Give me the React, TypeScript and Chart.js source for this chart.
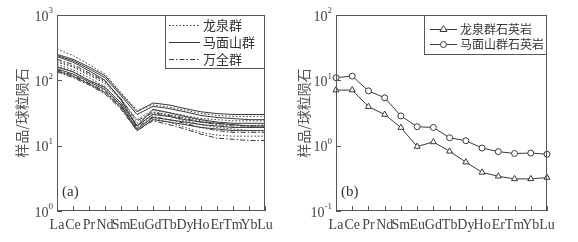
import React, { useEffect, useRef } from "react";
import { Chart, registerables } from "chart.js";
Chart.register(...registerables);

const elements = ["La", "Ce", "Pr", "Nd", "Sm", "Eu", "Gd", "Tb", "Dy", "Ho", "Er", "Tm", "Yb", "Lu"];

// Panel (a): chondrite-normalised REE of granitic rocks
const longquanA = [300, 240, 175, 125, 65, 35, 42, 39, 35, 31, 29, 28, 28, 28];
const longquanB = [190, 160, 120, 90, 50, 25, 35, 32, 29, 26, 25, 24, 24, 24];
const longquanC = [175, 145, 110, 80, 45, 20, 31, 28, 24, 21, 19, 18, 17, 17];
const longquanD = [165, 135, 100, 75, 40, 18, 26, 23, 19, 16, 14.5, 14, 14, 14];
const longquanE = [200, 165, 125, 95, 52, 22, 33, 30, 27, 24, 22, 21, 20, 21];

const mamianshanA = [250, 210, 160, 118, 62, 33, 45, 42, 37, 33, 31, 30, 30, 30];
const mamianshanB = [240, 200, 150, 110, 58, 30, 40, 37, 33, 29, 27, 26, 25, 25];
const mamianshanC = [230, 190, 140, 100, 50, 20, 36, 32, 28, 25, 23, 22, 22, 22];
const mamianshanD = [150, 125, 95, 72, 42, 18, 27, 25, 23, 21, 20, 19, 19, 19];
const mamianshanE = [140, 115, 88, 65, 38, 17, 25, 23, 21, 19, 18, 17, 17, 17];
const mamianshanF = [160, 135, 100, 78, 45, 20, 30, 28, 25, 23, 22, 21, 20, 20];

const wanquanA = [135, 110, 85, 62, 36, 17, 24, 21, 18, 15, 13, 12.5, 12, 12];
const wanquanB = [210, 175, 130, 98, 52, 24, 32, 29, 26, 23, 21, 20, 20, 20];
const wanquanC = [145, 120, 90, 68, 40, 19, 28, 25, 22, 19, 17, 16, 16, 16];

// Panel (b): quartzites
const longquanQuartzite = [7.1, 7.1, 3.95, 3.0, 1.89, 0.97, 1.14, 0.82, 0.56, 0.39, 0.34, 0.31, 0.31, 0.325];
const mamianshanQuartzite = [11, 11.6, 6.9, 5.4, 2.85, 1.95, 1.9, 1.32, 1.19, 0.92, 0.81, 0.76, 0.77, 0.74];

const decadesA = [0, 1, 2, 3];
const decadesB = [-1, 0, 1, 2];

const legendA = ["龙泉群", "马面山群", "万全群"];
const legendB = ["龙泉群石英岩", "马面山群石英岩"];
const yTitle = "样品/球粒陨石";

const DOT = [1.5, 2];
const DASHDOT = [5, 2, 1.5, 2];
const LINE = "#3a3a3a";
const AXIS = "#555";
const SERIF = "'Liberation Serif', 'Times New Roman', serif";
const CJK = "'Noto Sans CJK SC', sans-serif";

const supMap: Record<string, string> = { "-": "-", "0": "0", "1": "1", "2": "2", "3": "3" };

function makePlugin(o: any) {
  return {
    id: "decor",
    afterDraw(chart: any) {
      const { ctx, chartArea: a, scales } = chart;
      ctx.save();
      ctx.strokeStyle = AXIS;
      ctx.lineWidth = 1;
      ctx.setLineDash([]);
      ctx.strokeRect(a.left + 0.5, a.top + 0.5, a.right - a.left - 1, a.bottom - a.top - 1);
      // x ticks (inward)
      const xs = scales.x;
      elements.forEach((_, i) => {
        const px = Math.round(xs.getPixelForValue(i)) + 0.5;
        ctx.beginPath();
        ctx.moveTo(px, a.bottom);
        ctx.lineTo(px, a.bottom - 5);
        ctx.stroke();
      });
      // y ticks & labels
      const ys = scales.y;
      ctx.fillStyle = "#444";
      o.decades.forEach((e: number) => {
        const py = ys.getPixelForValue(Math.pow(10, e));
        ctx.beginPath();
        ctx.moveTo(a.left, Math.round(py) + 0.5);
        ctx.lineTo(a.left + 5, Math.round(py) + 0.5);
        ctx.stroke();
        const exp = String(e).split("").map((c) => supMap[c]).join("");
        ctx.font = `9px ${SERIF}`;
        const ew = ctx.measureText(exp).width;
        ctx.textAlign = "right";
        ctx.textBaseline = "middle";
        ctx.fillText(exp, a.left - 4, py - 4);
        ctx.font = `14px ${SERIF}`;
        ctx.fillText("10", a.left - 4 - ew, py + 2);
      });
      // y title
      ctx.save();
      ctx.translate(o.titleX, (a.top + a.bottom) / 2);
      ctx.rotate(-Math.PI / 2);
      ctx.font = `14px ${CJK}`;
      ctx.fillStyle = "#555";
      ctx.textAlign = "center";
      ctx.textBaseline = "middle";
      ctx.fillText(yTitle, 0, 0);
      ctx.restore();
      // panel label
      ctx.font = `15px ${SERIF}`;
      ctx.fillStyle = "#333";
      ctx.textAlign = "left";
      ctx.textBaseline = "middle";
      ctx.fillText(o.panel, a.left + 5, 192);
      // legend box
      const lb = o.legend;
      ctx.strokeStyle = AXIS;
      ctx.strokeRect(a.right - lb.w + 0.5, a.top + 0.5, lb.w - 1, lb.h);
      lb.items.forEach((it: any, i: number) => {
        const y = a.top + lb.y0 + i * lb.dy;
        const x0 = a.right - lb.w + lb.lx0;
        const x1 = a.right - lb.w + lb.lx1;
        ctx.strokeStyle = LINE;
        ctx.lineWidth = 1;
        ctx.setLineDash(it.dash || []);
        ctx.beginPath();
        ctx.moveTo(x0, y + 0.5);
        ctx.lineTo(x1, y + 0.5);
        ctx.stroke();
        ctx.setLineDash([]);
        const cx = (x0 + x1) / 2;
        if (it.marker === "triangle") {
          ctx.fillStyle = "#fff";
          ctx.beginPath();
          ctx.moveTo(cx, y - 3.5);
          ctx.lineTo(cx + 3.5, y + 2.5);
          ctx.lineTo(cx - 3.5, y + 2.5);
          ctx.closePath();
          ctx.fill();
          ctx.stroke();
        } else if (it.marker === "circle") {
          ctx.fillStyle = "#fff";
          ctx.beginPath();
          ctx.arc(cx, y + 0.5, 3, 0, Math.PI * 2);
          ctx.fill();
          ctx.stroke();
        }
        ctx.font = `${lb.fs}px ${CJK}`;
        ctx.fillStyle = "#333";
        ctx.textAlign = "left";
        ctx.textBaseline = "middle";
        ctx.fillText(it.text, a.right - lb.w + lb.tx, y);
      });
      ctx.restore();
    },
  };
}

function baseOptions(min: number, max: number, yWidth: number, rightPad: number, decades: number[]) {
  return {
    responsive: false,
    animation: false,
    layout: { padding: { top: 15, right: rightPad, left: 0, bottom: 0 } },
    plugins: { legend: { display: false }, tooltip: { enabled: false } },
    scales: {
      x: {
        type: "category",
        offset: false,
        grid: { display: false, drawTicks: false },
        border: { display: false },
        ticks: {
          autoSkip: false,
          maxRotation: 0,
          minRotation: 0,
          padding: 6,
          color: "#444",
          font: { family: SERIF, size: 14 },
        },
        afterFit: (s: any) => {
          s.height = 31;
        },
      },
      y: {
        type: "logarithmic",
        min,
        max,
        grid: { display: false, drawTicks: false },
        border: { display: false },
        ticks: { display: false },
        afterBuildTicks: (s: any) => {
          s.ticks = decades.map((e) => ({ value: Math.pow(10, e) }));
        },
        afterFit: (s: any) => {
          s.width = yWidth;
        },
      },
    },
  };
}

function PanelA() {
  const ref = useRef<HTMLCanvasElement>(null);
  useEffect(() => {
    const mk = (data: number[], dash: number[]) => ({
      data,
      borderColor: LINE,
      borderWidth: 1,
      borderDash: dash,
      pointRadius: 0,
      fill: false,
      tension: 0,
    });
    const chart = new Chart(ref.current!, {
      type: "line",
      data: {
        labels: elements,
        datasets: [
          mk(longquanA, DOT),
          mk(longquanB, DOT),
          mk(longquanC, DOT),
          mk(longquanD, DOT),
          mk(longquanE, DOT),
          mk(mamianshanA, []),
          mk(mamianshanB, []),
          mk(mamianshanC, []),
          mk(mamianshanD, []),
          mk(mamianshanE, []),
          mk(mamianshanF, []),
          mk(wanquanA, DASHDOT),
          mk(wanquanB, DASHDOT),
          mk(wanquanC, DASHDOT),
        ],
      },
      options: baseOptions(1, 1000, 57, 25, decadesA) as any,
      plugins: [
        makePlugin({
          decades: decadesA,
          titleX: 22,
          panel: "(a)",
          legend: {
            w: 100,
            h: 53,
            y0: 10,
            dy: 17,
            lx0: 4,
            lx1: 35,
            tx: 38,
            fs: 13,
            items: [
              { text: legendA[0], dash: DOT },
              { text: legendA[1], dash: [] },
              { text: legendA[2], dash: DASHDOT },
            ],
          },
        }),
      ],
    });
    return () => chart.destroy();
  }, []);
  return <canvas ref={ref} width={290} height={242} style={{ position: "absolute", left: 0, top: 0 }} />;
}

function PanelB() {
  const ref = useRef<HTMLCanvasElement>(null);
  useEffect(() => {
    const mk = (data: number[], style: string) => ({
      data,
      borderColor: LINE,
      borderWidth: 1,
      pointStyle: style,
      pointRadius: style === "triangle" ? 3.5 : 3,
      pointBackgroundColor: "#fff",
      pointBorderColor: LINE,
      pointBorderWidth: 1,
      fill: false,
      tension: 0,
    });
    const chart = new Chart(ref.current!, {
      type: "line",
      data: {
        labels: elements,
        datasets: [mk(longquanQuartzite, "triangle"), mk(mamianshanQuartzite, "circle")],
      },
      options: baseOptions(0.1, 100, 46, 31, decadesB) as any,
      plugins: [
        makePlugin({
          decades: decadesB,
          titleX: 14,
          panel: "(b)",
          legend: {
            w: 123,
            h: 39,
            y0: 14,
            dy: 15,
            lx0: 6,
            lx1: 33,
            tx: 36,
            fs: 12,
            items: [
              { text: legendB[0], marker: "triangle" },
              { text: legendB[1], marker: "circle" },
            ],
          },
        }),
      ],
    });
    return () => chart.destroy();
  }, []);
  return <canvas ref={ref} width={288} height={242} style={{ position: "absolute", left: 290, top: 0 }} />;
}

export default function App() {
  return (
    <div style={{ position: "absolute", left: 0, top: 0, width: 578, height: 242, background: "#fff" }}>
      <PanelA />
      <PanelB />
    </div>
  );
}
